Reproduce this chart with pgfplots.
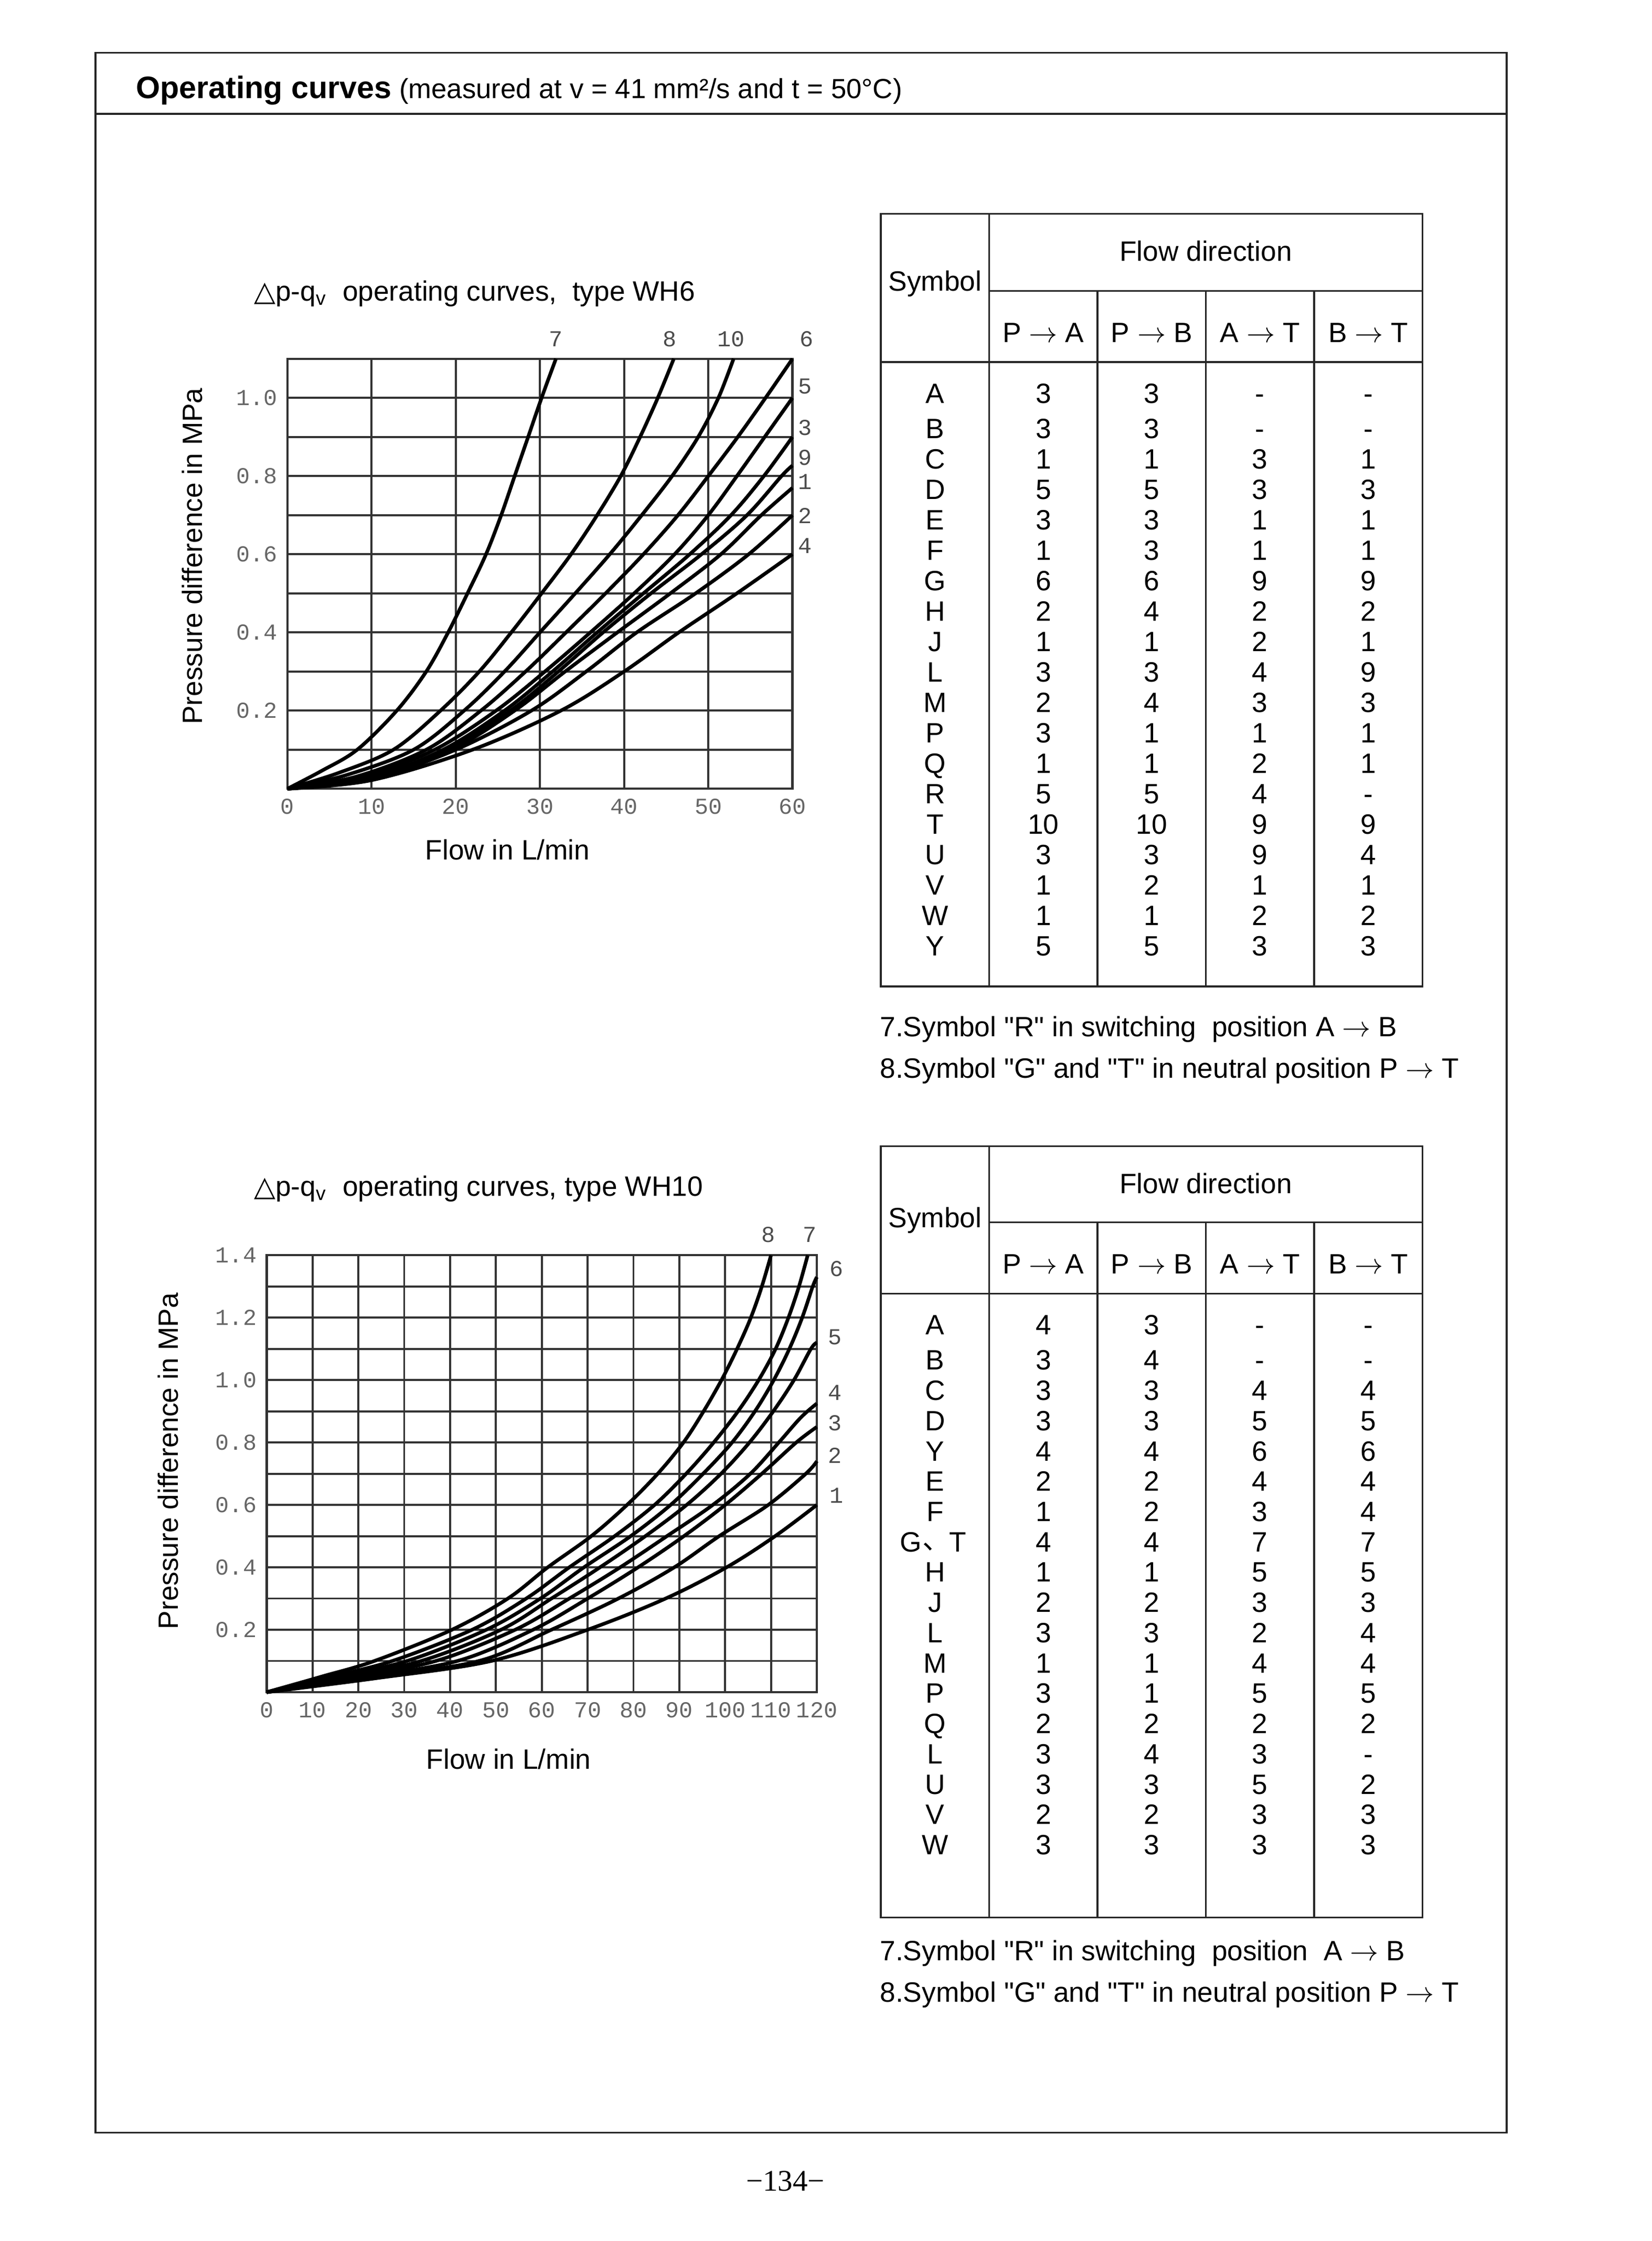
\documentclass[border=0pt]{standalone}
\usepackage{fontspec}
\usepackage{pgfplots}
\pgfplotsset{compat=1.18}
\setmainfont{Liberation Sans}
\newfontfamily\plainfont{Liberation Sans}
\newfontfamily\monofont{Liberation Mono}
\newfontfamily\seriffont{Liberation Serif}
\newfontfamily\dejavu{DejaVu Sans}
\newfontfamily\cjk{Noto Sans CJK SC}

\pgfplotsset{
  chart/.style={
    scale only axis, anchor=south west, clip=false,
    grid=both,
    major grid style={black!80, line width=0.7pt},
    minor grid style={black!80, line width=0.7pt},
    axis line style={black!80, line width=0.8pt},
    major tick length=0pt, minor tick length=0pt,
    ticklabel style={font=\monofont\fontsize{8}{9}\selectfont, text=black!60},
    label style={font=\fontsize{9.8}{11}\selectfont},
    every axis title shift=0pt,
    title style={font=\fontsize{9.8}{11}\selectfont, anchor=west, inner sep=0pt},
    ylabel style={anchor=center, inner sep=0pt},
    xlabel style={anchor=center, inner sep=0pt},
    every axis plot post/.append style={black, solid, line width=1.25pt, mark=none, smooth, tension=0.55},
  },
}
\tikzset{
  curvelab/.style={font=\monofont\fontsize{8}{9}\selectfont, text=black!70, inner sep=0pt},
  cell/.style={inner sep=0pt, text height=7pt, text depth=0pt, font=\fontsize{9.8}{11}\selectfont},
  tline/.style={line width=0.6pt, black!85},
}

\begin{document}
\begin{tikzpicture}
\begin{scope}[x=0.5pt,y=-0.5pt]
\path[use as bounding box] (0,0) rectangle (1159,1572);
% page frame and header
\draw[tline, line width=0.7pt] (67,37) rectangle (1057,1496);
\draw[tline, line width=0.7pt] (67,80) -- (1057,80);
\node[cell, anchor=west] at (95,62)
  {{\fontsize{10.9}{12}\selectfont\bfseries Operating curves} {\fontsize{9.7}{11}\selectfont(measured at v = 41 mm²/s and t = 50°C)}};

% ---------- table WH6 ----------
\draw[tline] (618,150) rectangle (998,692);
\draw[tline] (694,150) -- (694,692);
\draw[tline] (694,204) -- (998,204);
\draw[tline] (618,254) -- (998,254);
\foreach \xx in {770,846,922} \draw[tline] (\xx,204) -- (\xx,692);
\node[cell] at (656,197) {Symbol};
\node[cell] at (846,176) {Flow direction};
\node[cell] at (732,233) {P $\rightarrow$ A};
\node[cell] at (808,233) {P $\rightarrow$ B};
\node[cell] at (884,233) {A $\rightarrow$ T};
\node[cell] at (960,233) {B $\rightarrow$ T};
\foreach \yy/\s/\a/\b/\c/\d in {
  276/A/3/3/-/-, 300.6/B/3/3/-/-, 321.9/C/1/1/3/1, 343.3/D/5/5/3/3,
  364.6/E/3/3/1/1, 386.0/F/1/3/1/1, 407.3/G/6/6/9/9, 428.6/H/2/4/2/2,
  450.0/J/1/1/2/1, 471.3/L/3/3/4/9, 492.7/M/2/4/3/3, 514.0/P/3/1/1/1,
  535.3/Q/1/1/2/1, 556.7/R/5/5/4/-, 578.0/T/10/10/9/9, 599.4/U/3/3/9/4,
  620.7/V/1/2/1/1, 642.0/W/1/1/2/2, 663.4/Y/5/5/3/3}{
  \node[cell] at (656,\yy) {\s};
  \node[cell] at (732,\yy) {\a};
  \node[cell] at (808,\yy) {\b};
  \node[cell] at (884,\yy) {\c};
  \node[cell] at (960,\yy) {\d};
}
\node[cell, anchor=west] at (617,720) {\plainfont 7.Symbol "R" in switching\ \ position A $\rightarrow$ B};
\node[cell, anchor=west] at (617,749) {\plainfont 8.Symbol "G" and "T" in neutral position P $\rightarrow$ T};

% ---------- table WH10 ----------
\draw[tline] (618,804) rectangle (998,1345);
\draw[tline] (694,804) -- (694,1345);
\draw[tline] (694,857.5) -- (998,857.5);
\draw[tline] (618,907.5) -- (998,907.5);
\foreach \xx in {770,846,922} \draw[tline] (\xx,857.5) -- (\xx,1345);
\node[cell] at (656,854) {Symbol};
\node[cell] at (846,830) {Flow direction};
\node[cell] at (732,886.5) {P $\rightarrow$ A};
\node[cell] at (808,886.5) {P $\rightarrow$ B};
\node[cell] at (884,886.5) {A $\rightarrow$ T};
\node[cell] at (960,886.5) {B $\rightarrow$ T};
\foreach \yy/\s/\a/\b/\c/\d in {
  929/A/4/3/-/-, 954/B/3/4/-/-, 975.2/C/3/3/4/4, 996.5/D/3/3/5/5,
  1017.7/Y/4/4/6/6, 1039.0/E/2/2/4/4, 1060.2/F/1/2/3/4,
  1102.7/H/1/1/5/5, 1123.9/J/2/2/3/3, 1145.2/L/3/3/2/4, 1166.4/M/1/1/4/4,
  1187.6/P/3/1/5/5, 1208.9/Q/2/2/2/2, 1230.1/L/3/4/3/-, 1251.4/U/3/3/5/2,
  1272.6/V/2/2/3/3, 1293.8/W/3/3/3/3}{
  \node[cell] at (656,\yy) {\s};
  \node[cell] at (732,\yy) {\a};
  \node[cell] at (808,\yy) {\b};
  \node[cell] at (884,\yy) {\c};
  \node[cell] at (960,\yy) {\d};
}
\node[cell] at (639,1081.4) {G};
\node[inner sep=0pt, font=\fontsize{9.8}{11}\selectfont] at (657,1085) {\cjk 、};
\node[cell] at (672,1081.4) {T};
\node[cell] at (732,1081.4) {4};
\node[cell] at (808,1081.4) {4};
\node[cell] at (884,1081.4) {7};
\node[cell] at (960,1081.4) {7};
\node[cell, anchor=west] at (617,1368.4) {\plainfont 7.Symbol "R" in switching\ \ position\ \ A $\rightarrow$ B};
\node[cell, anchor=west] at (617,1397.4) {\plainfont 8.Symbol "G" and "T" in neutral position P $\rightarrow$ T};

% page number
\node[inner sep=0pt, font=\seriffont\fontsize{10.5}{12}\selectfont] at (551,1530) {−134−};
\end{scope}

% ---------- chart WH6 ----------
\begin{axis}[chart,
  at={(100.8pt,-276.65pt)}, width=177.2pt, height=150.8pt,
  xmin=0, xmax=60, ymin=0, ymax=1.1,
  xtick={0,10,20,30,40,50,60}, xticklabels={0,10,20,30,40,50,60},
  ytick={0.2,0.4,0.6,0.8,1.0}, yticklabels={0.2,0.4,0.6,0.8,1.0},
  minor ytick={0.1,0.3,0.5,0.7,0.9,1.1},
  title={{\dejavu △}p-q\textsubscript{v}\ \ operating curves,\ \ type WH6},
  title style={at={(axis description cs:-0.067,1.152)}},
  xlabel={Flow in L/min}, xlabel style={at={(axis description cs:0.436,-0.142)}},
  ylabel={Pressure difference in MPa}, ylabel style={at={(axis description cs:-0.188,0.541)}},
]
% curve 7
\addplot coordinates {(0,0) (4,0.045) (8.3,0.1) (13,0.2) (16.5,0.3) (19.1,0.4) (21.4,0.5) (23.6,0.6) (25.4,0.7) (27,0.8) (28.6,0.9) (30.2,1.0) (31.9,1.1)};
% curve 8
\addplot coordinates {(0,0) (6,0.04) (12.6,0.1) (18.2,0.2) (22.8,0.3) (26.6,0.4) (30.2,0.5) (33.7,0.6) (36.8,0.7) (39.6,0.8) (41.9,0.9) (44,1.0) (45.9,1.1)};
% curve 10
\addplot coordinates {(0,0) (7,0.035) (15,0.1) (21,0.2) (25.8,0.3) (30,0.4) (34.2,0.5) (38.3,0.6) (42.1,0.7) (45.7,0.8) (48.8,0.9) (51.2,1.0) (53,1.1)};
% curve 6
\addplot coordinates {(0,0) (8,0.03) (16.5,0.1) (23,0.2) (28.3,0.3) (33.1,0.4) (37.8,0.5) (42.3,0.6) (46.4,0.7) (50,0.8) (53.5,0.9) (56.8,1.0) (60,1.1)};
% curve 5
\addplot coordinates {(0,0) (9,0.03) (17.5,0.1) (24.8,0.2) (30.6,0.3) (36,0.4) (41.2,0.5) (46,0.6) (50,0.7) (53.4,0.8) (56.7,0.9) (60,1.0)};
% curve 3
\addplot coordinates {(0,0) (10,0.03) (18.5,0.1) (25.8,0.2) (31.5,0.3) (36.8,0.4) (42.3,0.5) (47.8,0.6) (52.7,0.7) (56.6,0.8) (60,0.9)};
% curve 9
\addplot coordinates {(0,0) (10,0.028) (19,0.1) (26.5,0.2) (32.2,0.3) (37.5,0.4) (43.2,0.5) (49.2,0.6) (54.6,0.7) (58.7,0.8) (60,0.827)};
% curve 1
\addplot coordinates {(0,0) (10,0.027) (19.5,0.1) (27,0.2) (33,0.3) (39.2,0.4) (45.5,0.5) (51.5,0.6) (56.3,0.7) (60,0.77)};
% curve 2
\addplot coordinates {(0,0) (10,0.025) (20,0.1) (29,0.2) (35.5,0.3) (41.5,0.4) (48.5,0.5) (54.8,0.6) (60,0.7)};
% curve 4
\addplot coordinates {(0,0) (10,0.022) (22,0.1) (32.5,0.2) (40,0.3) (46.5,0.4) (53.4,0.5) (60,0.6)};
\node[curvelab] at (axis cs:31.9,1.15) {7};
\node[curvelab] at (axis cs:45.4,1.15) {8};
\node[curvelab] at (axis cs:52.7,1.15) {10};
\node[curvelab] at (axis cs:61.7,1.15) {6};
\node[curvelab] at (axis cs:61.5,1.030) {5};
\node[curvelab] at (axis cs:61.5,0.924) {3};
\node[curvelab] at (axis cs:61.5,0.847) {9};
\node[curvelab] at (axis cs:61.5,0.785) {1};
\node[curvelab] at (axis cs:61.5,0.698) {2};
\node[curvelab] at (axis cs:61.5,0.621) {4};
\end{axis}

% ---------- chart WH10 ----------
\begin{axis}[chart,
  at={(93.55pt,-593.5pt)}, width=193pt, height=153.25pt,
  xmin=0, xmax=120, ymin=0, ymax=1.4,
  xtick={0,10,...,120}, xticklabels={0,10,20,30,40,50,60,70,80,90,100,110,120},
  ytick={0.2,0.4,0.6,0.8,1.0,1.2,1.4}, yticklabels={0.2,0.4,0.6,0.8,1.0,1.2,1.4},
  minor ytick={0.1,0.3,0.5,0.7,0.9,1.1,1.3},
  title={{\dejavu △}p-q\textsubscript{v}\ \ operating curves, type WH10},
  title style={at={(axis description cs:-0.024,1.152)}},
  xlabel={Flow in L/min}, xlabel style={at={(axis description cs:0.440,-0.153)}},
  ylabel={Pressure difference in MPa}, ylabel style={at={(axis description cs:-0.179,0.529)}},
]
% curve 8
\addplot coordinates {(0,0) (12,0.05) (23.5,0.1) (40.4,0.2) (52.6,0.3) (61.3,0.4) (70.8,0.5) (78.6,0.6) (85.3,0.7) (90.9,0.8) (95.3,0.9) (99.2,1.0) (102.6,1.1) (105.6,1.2) (108,1.3) (110,1.4)};
% curve 7
\addplot coordinates {(0,0) (14,0.05) (27.4,0.1) (44.8,0.2) (56.6,0.3) (66,0.4) (75.9,0.5) (84.6,0.6) (91.5,0.7) (97.5,0.8) (102.8,0.9) (107.3,1.0) (111,1.1) (113.8,1.2) (116.1,1.3) (118,1.4)};
% curve 6
\addplot coordinates {(0,0) (15,0.048) (30.6,0.1) (47.9,0.2) (59.7,0.3) (69.2,0.4) (79.4,0.5) (88.1,0.6) (95.2,0.7) (101.5,0.8) (106.5,0.9) (110.6,1.0) (114,1.1) (116.8,1.2) (119.1,1.3) (120,1.33)};
% curve 5
\addplot coordinates {(0,0) (16,0.046) (33.7,0.1) (51.1,0.2) (62.1,0.3) (72.7,0.4) (82.6,0.5) (91.6,0.6) (99.1,0.7) (105.3,0.8) (110.5,0.9) (115,1.0) (118.7,1.1) (120,1.12)};
% curve 4
\addplot coordinates {(0,0) (18,0.046) (36.9,0.1) (54.2,0.2) (66,0.3) (77.1,0.4) (87.3,0.5) (97.3,0.6) (105.5,0.7) (111.7,0.8) (116.5,0.88) (120,0.925)};
% curve 3
\addplot coordinates {(0,0) (20,0.045) (41.6,0.1) (58.1,0.2) (70,0.3) (81,0.4) (91,0.5) (100,0.6) (108,0.7) (115.5,0.8) (120,0.85)};
% curve 2
\addplot coordinates {(0,0) (22,0.045) (46.3,0.1) (62.1,0.2) (76.7,0.3) (88.9,0.4) (98.7,0.5) (109.4,0.6) (117.6,0.7) (120,0.74)};
% curve 1
\addplot coordinates {(0,0) (24,0.045) (49,0.1) (70,0.2) (87,0.3) (100.3,0.4) (110.9,0.5) (120,0.6)};
\node[curvelab] at (axis cs:109.4,1.466) {8};
\node[curvelab] at (axis cs:118.4,1.466) {7};
\node[curvelab] at (axis cs:124.3,1.357) {6};
\node[curvelab] at (axis cs:124.0,1.137) {5};
\node[curvelab] at (axis cs:124.0,0.959) {4};
\node[curvelab] at (axis cs:124.0,0.863) {3};
\node[curvelab] at (axis cs:124.0,0.758) {2};
\node[curvelab] at (axis cs:124.3,0.630) {1};
\end{axis}
\end{tikzpicture}
\end{document}
